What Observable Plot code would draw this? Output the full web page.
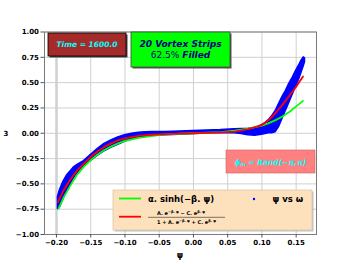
<!DOCTYPE html>
<html><head><meta charset="utf-8">
<script src="https://cdn.jsdelivr.net/npm/d3@7"></script>
<script src="https://cdn.jsdelivr.net/npm/@observablehq/plot@0.6"></script>
<style>body{margin:0;background:#fff} svg{display:block}</style>
</head><body><div id="chart"></div>
<script>
// ---- data ----
const xTicks = [-0.20, -0.15, -0.10, -0.05, 0.00, 0.05, 0.10, 0.15];
const yTicks = [-1.00, -0.75, -0.50, -0.25, 0.00, 0.25, 0.50, 0.75, 1.00];

// blue scatter band (psi vs omega): upper and lower edges of the point cloud
const bandPsi = [-0.198, -0.195, -0.19, -0.185, -0.18, -0.175, -0.17, -0.165, -0.16, -0.155, -0.15, -0.14, -0.13, -0.12, -0.11, -0.10, -0.09, -0.08, -0.07, -0.06, -0.04, -0.02, 0.00, 0.02, 0.04, 0.06, 0.07, 0.08, 0.09, 0.10, 0.105, 0.11, 0.115, 0.12, 0.125, 0.13, 0.135, 0.14, 0.145, 0.15, 0.155, 0.158, 0.161, 0.163];
const bandHi  = [-0.63, -0.56, -0.48, -0.42, -0.38, -0.34, -0.315, -0.295, -0.275, -0.245, -0.215, -0.155, -0.105, -0.07, -0.04, -0.02, -0.005, 0.005, 0.01, 0.012, 0.013, 0.017, 0.022, 0.027, 0.032, 0.04, 0.042, 0.045, 0.05, 0.08, 0.10, 0.13, 0.17, 0.22, 0.29, 0.36, 0.42, 0.49, 0.55, 0.62, 0.68, 0.72, 0.75, 0.74];
const bandLo  = [-0.75, -0.735, -0.655, -0.575, -0.51, -0.45, -0.40, -0.36, -0.325, -0.295, -0.275, -0.225, -0.18, -0.145, -0.115, -0.085, -0.062, -0.047, -0.035, -0.028, -0.02, -0.015, -0.008, -0.003, 0.00, 0.00, -0.008, -0.02, -0.025, -0.015, -0.008, 0.00, 0.00, 0.01, 0.06, 0.14, 0.22, 0.30, 0.38, 0.46, 0.54, 0.60, 0.66, 0.70];

// green fit: alpha.sinh(-beta.psi)
const greenPsi   = [-0.197, -0.19, -0.18, -0.17, -0.16, -0.15, -0.14, -0.13, -0.12, -0.11, -0.10, -0.08, -0.06, -0.04, -0.02, 0.00, 0.02, 0.04, 0.06, 0.08, 0.10, 0.11, 0.12, 0.13, 0.14, 0.15, 0.16];
const greenOmega = [-0.745, -0.64, -0.52, -0.41, -0.33, -0.265, -0.21, -0.165, -0.13, -0.10, -0.075, -0.045, -0.025, -0.012, -0.005, 0.00, 0.005, 0.012, 0.025, 0.045, 0.075, 0.10, 0.13, 0.165, 0.21, 0.265, 0.32];

// red fit: (A e^-bpsi - C e^bpsi)/(1 + A e^-bpsi + C e^bpsi)
const redPsi   = [-0.198, -0.19, -0.18, -0.17, -0.16, -0.15, -0.14, -0.13, -0.12, -0.11, -0.10, -0.08, -0.06, -0.04, -0.02, 0.00, 0.02, 0.04, 0.06, 0.08, 0.10, 0.11, 0.12, 0.13, 0.14, 0.15, 0.16];
const redOmega = [-0.68, -0.57, -0.46, -0.37, -0.30, -0.235, -0.18, -0.135, -0.10, -0.07, -0.05, -0.025, -0.015, -0.008, -0.003, 0.00, 0.003, 0.008, 0.017, 0.04, 0.08, 0.13, 0.20, 0.28, 0.37, 0.46, 0.56];

const colors = {green: "#00ff00", red: "#ff0000", blue: "#0000ff"};
const xLabel = "ψ";
const yLabel = "3";
const timeLabel = "Time = 1600.0";
const stripsLine1 = "20 Vortex Strips";
const stripsPct = "62.5%";
const stripsWord = "Filled";
const greenLabel = "α. sinh(−β. ψ)";
const blueLabel = "ψ vs ω";

// ---- tables ----
const band = bandPsi.map((p, i) => ({psi: p, hi: bandHi[i], lo: bandLo[i]}));
const green = greenPsi.map((p, i) => ({psi: p, w: greenOmega[i]}));
const red = redPsi.map((p, i) => ({psi: p, w: redOmega[i]}));

const fmt = d3.format(".2f");
const chart = Plot.plot({
  width: 352, height: 264,
  marginLeft: 44, marginRight: 36, marginTop: 31.5, marginBottom: 30,
  style: "font-family:'DejaVu Sans';font-size:7px;font-weight:bold;background:#fff;overflow:visible;color:#000",
  x: {domain: [-0.2175, 0.1797], label: null},
  y: {domain: [-1, 1], label: null},
  marks: [
    Plot.gridX(xTicks, {stroke: "#d0d0d0", strokeOpacity: 1, strokeWidth: d => d === -0.2 ? 2.5 : 1}),
    Plot.gridY(yTicks, {stroke: "#d0d0d0", strokeOpacity: 1}),
    Plot.areaY(band, {x: "psi", y1: "lo", y2: "hi", fill: colors.blue, stroke: colors.blue, strokeWidth: 1.4, strokeLinejoin: "round"}),
    Plot.line(green, {x: "psi", y: "w", stroke: colors.green, strokeWidth: 1.8}),
    Plot.line(red, {x: "psi", y: "w", stroke: colors.red, strokeWidth: 1.8}),
    Plot.frame({stroke: "#7a7a7a"}),
    Plot.axisX(xTicks, {tickFormat: fmt, tickSize: 3.5, tickPadding: 2.5, stroke: "#555", label: null}),
    Plot.axisY(yTicks, {tickFormat: fmt, tickSize: 3.5, tickPadding: 2, stroke: "#555", label: null})
  ]
});
document.getElementById("chart").append(chart);

const svg = d3.select(chart);
const g = svg.append("g").attr("font-family", "DejaVu Sans").attr("text-anchor", "start").attr("fill", "#000");

// axis labels
g.append("text").attr("x", 180).attr("y", 258).attr("text-anchor", "middle").attr("font-size", 8).attr("font-weight", "bold").attr("fill", "#000").text(xLabel);
g.append("text").attr("x", 6).attr("y", 135.5).attr("text-anchor", "middle").attr("font-size", 7).attr("font-weight", "bold").attr("fill", "#000").text(yLabel);

// Time box
g.append("rect").attr("x", 49.5).attr("y", 34.5).attr("width", 78).attr("height", 23).attr("fill", "#444");
g.append("rect").attr("x", 48).attr("y", 33).attr("width", 78).attr("height", 23).attr("fill", "#a52a2a").attr("stroke", "#000").attr("stroke-width", 0.8);
g.append("text").attr("x", 87).attr("y", 46.8).attr("text-anchor", "middle").attr("font-size", 7.5).attr("font-weight", "bold").attr("font-style", "italic").attr("fill", "#00ffff").text(timeLabel);

// Vortex strips box
g.append("rect").attr("x", 132.5).attr("y", 33.5).attr("width", 99).attr("height", 35).attr("fill", "#555");
g.append("rect").attr("x", 131).attr("y", 32).attr("width", 99).attr("height", 35).attr("fill", "#00ff00").attr("stroke", "#444").attr("stroke-width", 0.8);
g.append("text").attr("x", 180.5).attr("y", 47).attr("text-anchor", "middle").attr("font-size", 9).attr("font-weight", "bold").attr("font-style", "italic").attr("fill", "#000080").text(stripsLine1);
const t2 = g.append("text").attr("x", 180.5).attr("y", 57.8).attr("text-anchor", "middle").attr("font-size", 9).attr("fill", "#000080");
t2.append("tspan").attr("font-weight", "normal").text(stripsPct + " ");
t2.append("tspan").attr("font-weight", "bold").attr("font-style", "italic").text(stripsWord);

// phase box
g.append("rect").attr("x", 226).attr("y", 150).attr("width", 89).attr("height", 23).attr("fill", "#ff8080").attr("stroke", "#d06060").attr("stroke-width", 0.6);
const ph = g.append("text").attr("x", 270.5).attr("y", 164.5).attr("text-anchor", "middle").attr("font-size", 7.5).attr("font-weight", "bold").attr("font-style", "italic").attr("fill", "#00ffff");
ph.append("tspan").text("ϕ");
ph.append("tspan").attr("font-size", 5).attr("dy", 1.5).text("m");
ph.append("tspan").attr("dy", -1.5).text(" = Rand(−π,π)");

// legend
g.append("rect").attr("x", 114.5).attr("y", 191.5).attr("width", 199).attr("height", 40).attr("fill", "#999").attr("opacity", 0.6);
g.append("rect").attr("x", 113).attr("y", 190).attr("width", 199).attr("height", 40).attr("fill", "#fde0bc").attr("stroke", "#d8c8b0").attr("stroke-width", 0.8);
g.append("line").attr("x1", 119).attr("x2", 141).attr("y1", 198.5).attr("y2", 198.5).attr("stroke", colors.green).attr("stroke-width", 1.8);
g.append("line").attr("x1", 119).attr("x2", 141).attr("y1", 216.7).attr("y2", 216.7).attr("stroke", colors.red).attr("stroke-width", 1.8);
g.append("text").attr("x", 148).attr("y", 202).attr("text-anchor", "start").attr("font-size", 8.5).attr("font-weight", "bold").text(greenLabel);
g.append("circle").attr("cx", 254).attr("cy", 199).attr("r", 1.2).attr("fill", colors.blue);
g.append("text").attr("x", 272.5).attr("y", 202).attr("text-anchor", "start").attr("font-size", 8.5).attr("font-weight", "bold").text(blueLabel);
// fraction
const num = g.append("text").attr("x", 181).attr("y", 214.5).attr("text-anchor", "middle").attr("font-size", 5).attr("font-weight", "bold");
num.append("tspan").text("A. e");
num.append("tspan").attr("font-size", 3.5).attr("dy", -2).text("−β. ψ");
num.append("tspan").attr("dy", 2).text(" − C. e");
num.append("tspan").attr("font-size", 3.5).attr("dy", -2).text("β. ψ");
g.append("line").attr("x1", 148).attr("x2", 225).attr("y1", 217.3).attr("y2", 217.3).attr("stroke", "#000").attr("stroke-width", 0.5);
const den = g.append("text").attr("x", 186.5).attr("y", 224).attr("text-anchor", "middle").attr("font-size", 5).attr("font-weight", "bold");
den.append("tspan").text("1 + A. e");
den.append("tspan").attr("font-size", 3.5).attr("dy", -2).text("−β. ψ");
den.append("tspan").attr("dy", 2).text(" + C. e");
den.append("tspan").attr("font-size", 3.5).attr("dy", -2).text("β. ψ");
</script>
</body></html>
